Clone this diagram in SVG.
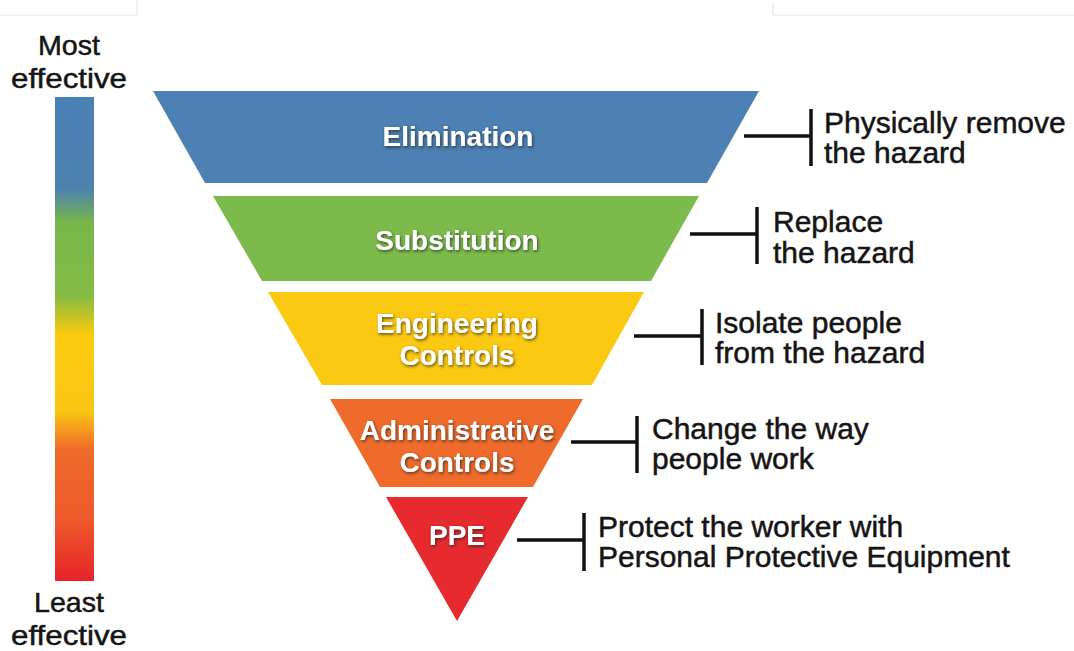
<svg xmlns="http://www.w3.org/2000/svg" width="1074" height="651" viewBox="0 0 1074 651">
  <defs>
    <linearGradient id="eff" x1="0" y1="0" x2="0" y2="1">
      <stop offset="0" stop-color="#4a7fb4"/>
      <stop offset="0.19" stop-color="#4c82ae"/>
      <stop offset="0.26" stop-color="#78b64a"/>
      <stop offset="0.41" stop-color="#84bb45"/>
      <stop offset="0.49" stop-color="#fbcb0e"/>
      <stop offset="0.65" stop-color="#fbc514"/>
      <stop offset="0.73" stop-color="#ee6a2a"/>
      <stop offset="0.87" stop-color="#ee5a2a"/>
      <stop offset="1" stop-color="#e6232a"/>
    </linearGradient>
    <filter id="shadow" x="-20%" y="-40%" width="140%" height="180%">
      <feDropShadow dx="1" dy="1.5" stdDeviation="1.5" flood-color="#222" flood-opacity="0.75"/>
    </filter>
  </defs>
  <style>
    .lvl { font-family: "Liberation Sans", Arial, sans-serif; font-weight: bold; font-size: 28px; fill: #ffffff; text-anchor: middle; filter: url(#shadow); }
    .desc { font-family: "Liberation Sans", Arial, sans-serif; font-size: 30px; fill: #151515; stroke: #151515; stroke-width: 0.5px; }
    .side { font-family: "Liberation Sans", Arial, sans-serif; font-size: 28px; fill: #151515; stroke: #151515; stroke-width: 0.5px; text-anchor: middle; }
    .conn { stroke: #111111; stroke-width: 3.5; fill: none; }
    .faint { stroke: #e6e6e6; stroke-width: 1.2; fill: none; }
  </style>

  <rect x="0" y="0" width="1074" height="651" fill="#ffffff"/>

  <g id="frame-lines">
    <polyline class="faint" points="0,15 137,15 137,0"/>
    <polyline class="faint" points="773,2 773,15 1074,15"/>
  </g>

  <g id="effectiveness-scale">
    <text class="side" x="69" y="55" textLength="62" lengthAdjust="spacingAndGlyphs">Most</text>
    <text class="side" x="69" y="88" textLength="116" lengthAdjust="spacingAndGlyphs">effective</text>
    <rect x="55" y="97" width="39" height="484" fill="url(#eff)"/>
    <text class="side" x="69" y="612" textLength="70" lengthAdjust="spacingAndGlyphs">Least</text>
    <text class="side" x="69" y="645" textLength="116" lengthAdjust="spacingAndGlyphs">effective</text>
  </g>

  <g id="elimination">
    <polygon points="153,91 759,91 707,183 205,183" fill="#4d80b3"/>
    <text class="lvl" x="458" y="146">Elimination</text>
  </g>

  <g id="substitution">
    <polygon points="213,196 699,196 651,281 262,281" fill="#7cbb4b"/>
    <text class="lvl" x="457" y="250">Substitution</text>
  </g>

  <g id="engineering-controls">
    <polygon points="268,292 644,292 592,385 322,385" fill="#fcc912"/>
    <text class="lvl" x="457" y="333">Engineering</text>
    <text class="lvl" x="457" y="365">Controls</text>
  </g>

  <g id="administrative-controls">
    <polygon points="330,399 583,399 533,487 380,487" fill="#ee6b2b"/>
    <text class="lvl" x="457" y="440">Administrative</text>
    <text class="lvl" x="457" y="472">Controls</text>
  </g>

  <g id="ppe">
    <polygon points="386,497 528,497 457,621" fill="#e62a2e"/>
    <text class="lvl" x="457" y="545">PPE</text>
  </g>

  <g id="connectors">
    <path class="conn" d="M744,136 H811 M811,109 V166"/>
    <path class="conn" d="M690,234 H757 M757,207 V264"/>
    <path class="conn" d="M634,336 H702 M702,309 V365"/>
    <path class="conn" d="M571,442 H637 M637,416 V473"/>
    <path class="conn" d="M517,540 H584 M584,513 V571"/>
  </g>

  <g id="descriptions">
    <text class="desc" x="824" y="133">Physically remove</text>
    <text class="desc" x="824" y="163">the hazard</text>
    <text class="desc" x="773" y="232">Replace</text>
    <text class="desc" x="773" y="263">the hazard</text>
    <text class="desc" x="715" y="333">Isolate people</text>
    <text class="desc" x="715" y="363">from the hazard</text>
    <text class="desc" x="652" y="439">Change the way</text>
    <text class="desc" x="652" y="469">people work</text>
    <text class="desc" x="598" y="537">Protect the worker with</text>
    <text class="desc" x="598" y="567">Personal Protective Equipment</text>
  </g>
</svg>
